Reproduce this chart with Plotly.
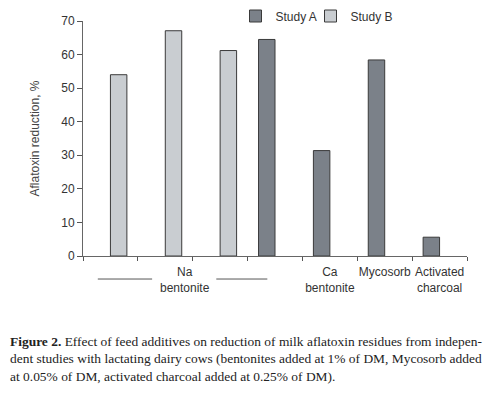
import plotly.graph_objects as go

categories = ["na1", "na2", "na3", "na4", "ca", "myco", "charcoal"]
tick_labels = ["", "", "", "", "Ca<br>bentonite", "Mycosorb", "Activated<br>charcoal"]
study_a = [None, None, None, 64.5, 31.4, 58.4, 5.6]
study_b = [54.0, 67.1, 61.2, None, None, None, None]
y_ticks = [0, 10, 20, 30, 40, 50, 60, 70]

caption = ("<b>Figure 2.</b> Effect of feed additives on reduction of milk aflatoxin residues from indepen-<br>"
           "dent studies with lactating dairy cows (bentonites added at 1% of DM, Mycosorb added<br>"
           "at 0.05% of DM, activated charcoal added at 0.25% of DM).")

fig = go.Figure()
fig.add_trace(go.Bar(x=categories, y=study_a, name="Study A", legend="legend",
                     marker=dict(color="#7b8189", line=dict(color="#3a3a3a", width=1))))
fig.add_trace(go.Bar(x=categories, y=study_b, name="Study B", legend="legend2",
                     marker=dict(color="#c9cdd1", line=dict(color="#3a3a3a", width=1))))

sans = "Liberation Sans, Arial, sans-serif"
axis_font = dict(family=sans, size=12, color="#333333")
legend_common = dict(orientation="h", xref="container", yref="container", xanchor="left",
                     y=1 - 8 / 397, yanchor="middle",
                     font=dict(family=sans, size=12, color="#333333"),
                     itemwidth=30, bgcolor="rgba(0,0,0,0)")

fig.update_layout(
    width=500, height=397,
    margin=dict(l=75, r=41, t=13, b=149, autoexpand=False),
    paper_bgcolor="white", plot_bgcolor="white",
    barmode="group", bargap=0.4, bargroupgap=0,
    showlegend=True,
    legend=dict(x=0.455, **legend_common),
    legend2=dict(x=0.605, **legend_common),
    xaxis=dict(type="category", categoryorder="array", categoryarray=categories,
               tickmode="array", tickvals=categories, ticktext=tick_labels, tickangle=0,
               tickson="boundaries", ticks="outside", ticklen=4, tickcolor="#555555",
               ticklabelstandoff=5,
               showline=True, linecolor="#666666", linewidth=1, showgrid=False,
               tickfont=axis_font, range=[-0.5, 6.5], automargin=False),
    yaxis=dict(range=[0, 70], tickvals=y_ticks, ticks="outside", ticklen=5, tickcolor="#555555",
               showline=True, linecolor="#666666", linewidth=1, showgrid=False, zeroline=False,
               automargin=False, tickfont=axis_font,
               title=dict(text="Aflatoxin reduction, %", standoff=19,
                          font=dict(family=sans, size=12, color="#444444"))),
)

# "Na bentonite" group label with bracket lines
fig.add_annotation(x=1.36, xref="x", y=-0.03, yref="paper", yanchor="top",
                   text="Na<br>bentonite", showarrow=False, font=axis_font)
for x0, x1 in [(-0.23, 0.76), (1.93, 2.86)]:
    fig.add_shape(type="line", xref="x", yref="paper", x0=x0, x1=x1, y0=-0.098, y1=-0.098,
                  line=dict(color="#555555", width=1))

fig.add_annotation(x=-0.195, xref="paper", xanchor="left", y=-0.322, yref="paper", yanchor="top",
                   text=caption, showarrow=False, align="left",
                   font=dict(family="Liberation Serif, Times New Roman, serif", size=13.45, color="#222222"))

fig.write_html("out.html")
